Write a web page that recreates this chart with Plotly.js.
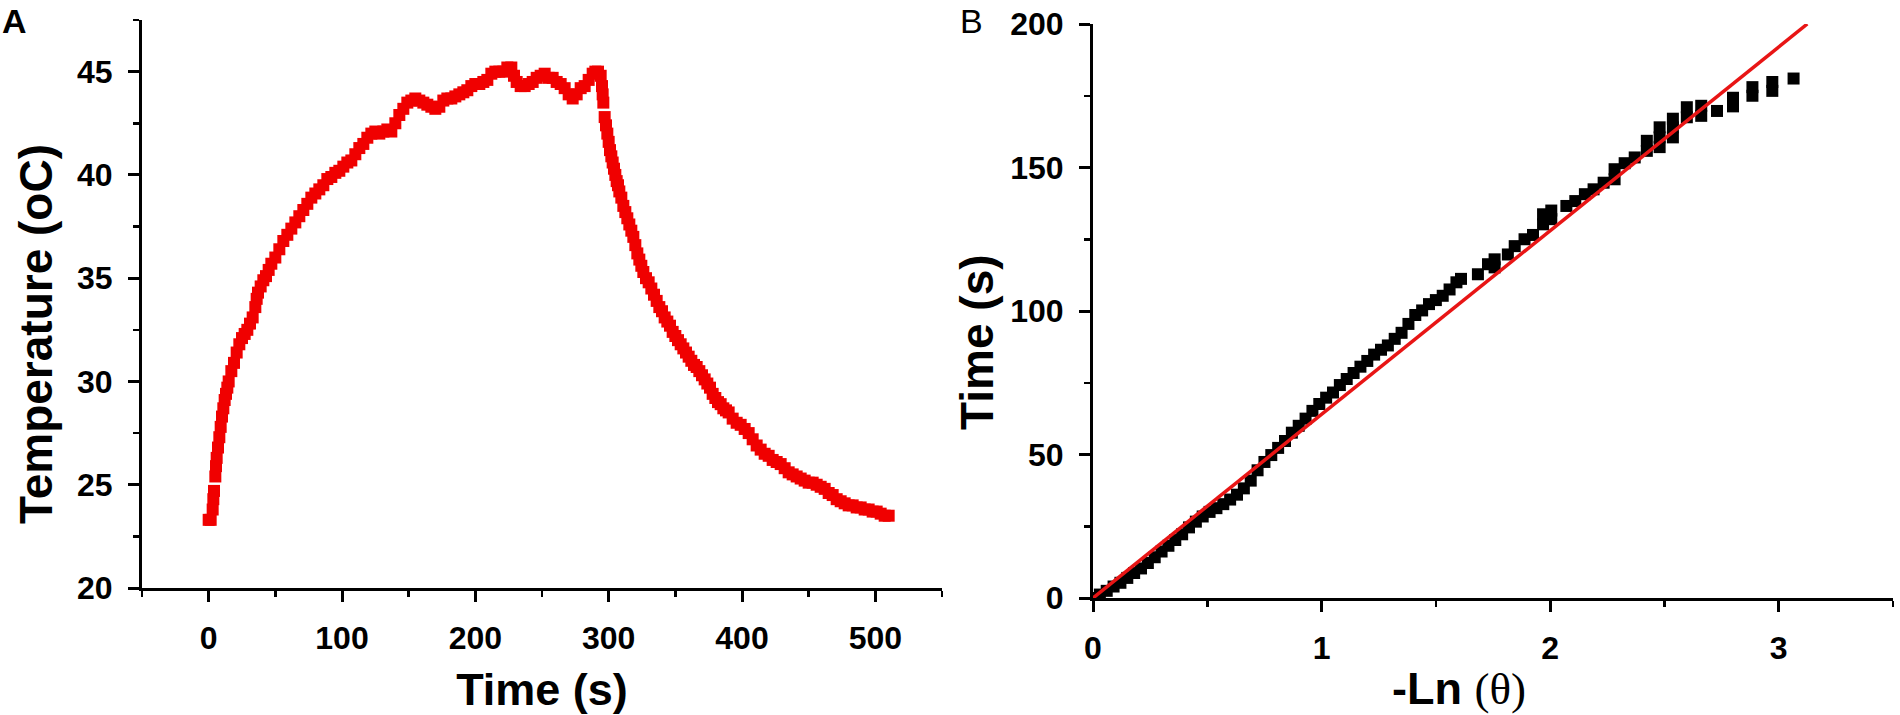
<!DOCTYPE html>
<html>
<head>
<meta charset="utf-8">
<script src="https://cdn.plot.ly/plotly-3.0.1.min.js"></script>
<style>
html,body{margin:0;padding:0;background:#fff;}
#chart{width:1900px;height:715px;}
</style>
</head>
<body>
<div id="chart"></div>
<script>
// Panel A: temperature (oC) versus time (s)
const heatingCoolingCurve = [
  [0,23.3],[1.5,23.3],[3,23.8],[3.5,24.3],[4,24.7],[5,25.4],[5.5,25.9],[6,26.3],[7,26.8],[8,27.3],
  [9,27.8],[10,28.3],[11,28.7],[12,29.1],[13,29.4],[14,29.7],[15,30.0],[17,30.5],[19,30.9],[21,31.4],
  [23,31.8],[25,32.1],[27,32.3],[29,32.5],[31,32.8],[33,33.1],[35,33.6],[36,34.0],[37,34.3],[39,34.6],
  [41,34.9],[43,35.1],[45,35.4],[47,35.7],[50,36.0],[53,36.4],[56,36.8],[59,37.1],[62,37.4],[65,37.7],
  [68,38.0],[71,38.3],[74,38.6],[77,38.9],[80,39.1],[83,39.3],[86,39.5],[89,39.8],[92,39.9],[95,40.1],
  [98,40.2],[101,40.4],[104,40.6],[107,40.7],[110,41.0],[113,41.3],[116,41.5],[119,41.8],[122,42.0],[125,42.1],
  [128,42.0],[131,42.1],[134,42.2],[137,42.1],[140,42.5],[143,42.9],[146,43.2],[149,43.5],[152,43.6],[155,43.7],
  [158,43.6],[161,43.5],[164,43.4],[167,43.3],[170,43.2],[173,43.3],[176,43.6],[179,43.7],[182,43.7],[185,43.8],
  [188,43.9],[191,44.0],[194,44.1],[197,44.3],[200,44.4],[203,44.4],[206,44.5],[209,44.6],[212,44.9],[215,45.0],
  [218,45.0],[221,45.0],[224,45.2],[227,45.2],[229,44.8],[231,44.5],[234,44.3],[237,44.3],[240,44.4],[243,44.5],
  [246,44.7],[249,44.8],[252,44.9],[255,44.7],[258,44.7],[261,44.5],[264,44.4],[267,44.2],[270,43.9],[273,43.7],
  [276,43.9],[279,44.2],[282,44.3],[285,44.6],[288,44.9],[290,45.0],[292,45.0],[294,44.8],[295,44.3],[295.5,43.9],
  [296,43.5],[297,42.8],[298,42.4],[299,42.0],[300,41.6],[301,41.2],[302,40.9],[303,40.6],[304,40.3],[305,40.0],
  [306,39.7],[307,39.5],[308,39.2],[309.5,38.9],[311,38.5],[312.5,38.2],[314,37.9],[315.5,37.6],[317,37.3],[318.5,37.0],
  [320,36.6],[321.5,36.2],[323,35.9],[324.5,35.6],[326,35.3],[328,35.0],[330,34.8],[332,34.5],[334,34.2],[336,33.9],
  [338,33.6],[340,33.4],[342,33.1],[344,32.9],[346,32.7],[348,32.4],[350,32.2],[352,32.0],[354,31.8],[356,31.6],
  [358,31.4],[360,31.2],[362,31.0],[364,30.8],[366,30.7],[368,30.5],[370,30.3],[372,30.1],[374,29.9],[376,29.7],
  [378,29.4],[380,29.2],[382,29.0],[384,28.9],[386,28.7],[388,28.6],[390,28.5],[393,28.2],[396,28.0],[399,27.9],
  [402,27.7],[405,27.5],[408,27.2],[411,26.9],[414,26.7],[417,26.5],[420,26.4],[423,26.2],[426,26.1],[429,26.0],
  [432,25.8],[435,25.6],[438,25.5],[441,25.4],[444,25.3],[447,25.2],[450,25.1],[453,25.1],[456,25.0],[459,24.9],
  [462,24.8],[465,24.6],[468,24.5],[471,24.3],[474,24.2],[477,24.1],[480,24.0],[483,24.0],[486,23.9],[489,23.9],
  [492,23.8],[495,23.8],[498,23.7],[501,23.7],[504,23.6],[507,23.5],[510,23.5]
];

// Panel B: time (s) versus -Ln(theta)
const lnThetaTime = [
  [0.00,0],[0.03,1.2],[0.06,2.5],[0.09,4.0],[0.12,5.3],[0.15,7.0],[0.18,8.7],[0.21,10.3],[0.24,12.2],[0.27,14.2],
  [0.30,16.2],[0.33,18.2],[0.36,20.2],[0.39,22.2],[0.42,24.6],[0.45,26.6],[0.48,28.4],[0.51,30.0],[0.54,31.3],[0.57,32.7],
  [0.60,34.3],[0.63,36.0],[0.66,38.2],[0.69,40.9],[0.72,44.5],[0.75,47.4],[0.78,49.8],[0.81,52.3],[0.84,54.7],[0.87,57.6],
  [0.90,60.0],[0.93,62.5],[0.96,65.2],[0.99,67.6],[1.02,69.8],[1.05,71.6],[1.08,74.2],[1.11,76.3],[1.14,78.4],[1.17,80.6],
  [1.20,82.6],[1.23,84.8],[1.26,86.5],[1.29,88.0],[1.32,90.3],[1.35,92.4],[1.38,95.5],[1.41,98.6],[1.44,100.2],[1.47,102.4],
  [1.50,103.8],[1.53,105.3],[1.56,107.5],[1.59,110.0],[1.61,111.2],[1.684,112.8],[1.728,116.3],[1.757,118.0],[1.757,115.2],[1.815,119.7],
  [1.845,122.6],[1.888,125.0],[1.925,126.5],[1.969,130.2],[1.969,133.7],[2.005,132.0],[2.005,135.0],[2.071,136.6],[2.11,138.3],[2.152,140.7],
  [2.19,142.4],[2.234,144.7],[2.282,145.9],[2.282,149.4],[2.326,151.5],[2.37,153.5],[2.423,155.8],[2.423,159.3],[2.479,157.1],[2.479,160.5],
  [2.479,164.0],[2.537,160.5],[2.537,164.0],[2.537,167.0],[2.598,167.5],[2.598,171.0],[2.661,168.0],[2.661,171.5],[2.73,169.7],[2.80,171.3],
  [2.80,174.3],[2.885,175.0],[2.885,178.0],[2.972,176.7],[2.972,179.8],[3.065,181.0]
];

// Linear fit shown in panel B
const fitLnTheta = [0, 3.125];
const fitTime = [0, 200];

// Tick values
const tempTicks = [20, 25, 30, 35, 40, 45];
const timeTicks = [0, 100, 200, 300, 400, 500];
const lnTicks = [0, 1, 2, 3];
const fitTimeTicks = [0, 50, 100, 150, 200];

const FONT = 'Liberation Sans, Arial, Helvetica, sans-serif';
const tickFont = {family: FONT, size: 32, color: '#000', weight: 'bold'};
const titleFont = {family: FONT, size: 45, color: '#000', weight: 'bold'};

function minorTicks(dtick, tick0) {
  return {ticks: 'outside', ticklen: 6, tickwidth: 2.5, tickcolor: '#000', dtick: dtick, tick0: tick0, showgrid: false};
}

function axisBase(extra) {
  return Object.assign({
    showline: true, linecolor: '#000', linewidth: 3,
    ticks: 'outside', ticklen: 11, tickwidth: 3, tickcolor: '#000',
    ticklabelstandoff: 9,
    showgrid: false, zeroline: false, mirror: false,
    tickfont: tickFont, fixedrange: true
  }, extra);
}

const traces = [
  {
    x: heatingCoolingCurve.map(p => p[0]),
    y: heatingCoolingCurve.map(p => p[1]),
    xaxis: 'x', yaxis: 'y',
    mode: 'markers', type: 'scatter',
    marker: {symbol: 'square', size: 12, color: '#f00000', line: {width: 0}},
    hoverinfo: 'skip', showlegend: false
  },
  {
    x: lnThetaTime.map(p => p[0]),
    y: lnThetaTime.map(p => p[1]),
    xaxis: 'x2', yaxis: 'y2',
    mode: 'markers', type: 'scatter',
    marker: {symbol: 'square', size: 12, color: '#000000', line: {width: 0}},
    hoverinfo: 'skip', showlegend: false
  },
  {
    x: fitLnTheta, y: fitTime,
    xaxis: 'x2', yaxis: 'y2',
    mode: 'lines', type: 'scatter',
    line: {color: '#e81515', width: 3.5},
    hoverinfo: 'skip', showlegend: false
  }
];

const annFont = {family: FONT, size: 46, color: '#000', weight: 'bold'};

const layout = {
  width: 1900, height: 715,
  margin: {l: 0, r: 0, t: 0, b: 0},
  paper_bgcolor: '#fff', plot_bgcolor: '#fff',
  showlegend: false,
  xaxis: axisBase({
    domain: [142/1900, 942/1900], range: [-50, 550],
    tickvals: timeTicks, minor: minorTicks(50, 0),
    anchor: 'y',
    title: {text: 'Time (s)', font: titleFont, standoff: 22}
  }),
  yaxis: axisBase({
    domain: [1 - 588/715, 1 - 20/715], range: [20, 47.5],
    tickvals: tempTicks, minor: minorTicks(2.5, 20),
    anchor: 'x'
  }),
  xaxis2: axisBase({
    domain: [1093/1900, 1893/1900], range: [0, 3.5],
    tickvals: lnTicks, minor: minorTicks(0.5, 0),
    anchor: 'y2'
  }),
  yaxis2: axisBase({
    domain: [1 - 598/715, 1 - 24/715], range: [0, 200],
    tickvals: fitTimeTicks, minor: minorTicks(25, 0),
    anchor: 'x2'
  }),
  annotations: [
    {text: 'A', xref: 'paper', yref: 'paper', x: 0, y: 1, xanchor: 'left', yanchor: 'top',
     showarrow: false, font: {family: FONT, size: 34, color: '#000', weight: 'bold'}},
    {text: 'B', xref: 'paper', yref: 'paper', x: 958/1900, y: 1, xanchor: 'left', yanchor: 'top',
     showarrow: false, font: {family: FONT, size: 34, color: '#000'}},
    // y-axis title of panel A
    {text: 'Temperature (oC)', xref: 'paper', yref: 'paper', x: 36/1900, y: 1 - 334/715,
     xanchor: 'center', yanchor: 'middle', textangle: -90, showarrow: false, font: annFont},
    // y-axis title of panel B
    {text: 'Time (s)', xref: 'paper', yref: 'paper', x: 977/1900, y: 1 - 342/715,
     xanchor: 'center', yanchor: 'middle', textangle: -90, showarrow: false, font: annFont},
    // x-axis title of panel B
    {text: '-Ln <span style="font-family:Liberation Serif, Times New Roman, serif;font-weight:normal">(θ)</span>',
     xref: 'paper', yref: 'paper', x: 1459/1900, y: 1 - 688/715,
     xanchor: 'center', yanchor: 'middle', showarrow: false, font: {family: FONT, size: 45, color: '#000', weight: 'bold'}}
  ]
};

Plotly.newPlot('chart', traces, layout, {displayModeBar: false, staticPlot: true});
</script>
</body>
</html>
